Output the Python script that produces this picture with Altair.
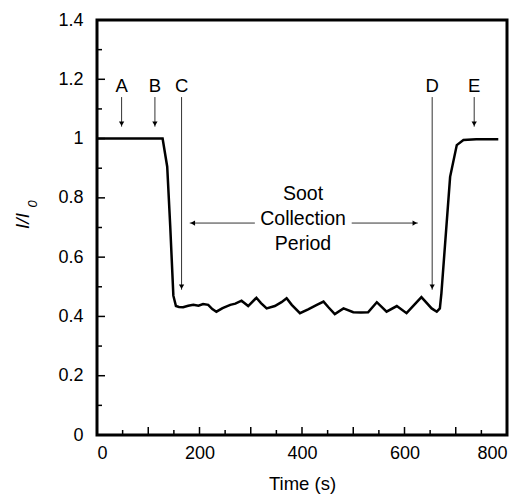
import altair as alt
import pandas as pd

# ---- data ----
time_s = [0, 20, 40, 60, 80, 100, 120, 128, 137, 143, 149, 154, 160, 168, 178, 188, 198, 207, 217,
          225, 233, 245, 260, 270, 282, 295, 311, 320, 331, 347, 360, 370, 380, 396, 412, 428, 442,
          452, 464, 481, 500, 515, 529, 546, 565, 585, 604, 618, 633, 653, 663, 669, 672, 689, 702,
          715, 740, 760, 783]
ratio = [1.0, 1.0, 1.0, 1.0, 1.0, 1.0, 1.0, 1.0, 0.905, 0.70, 0.47, 0.435, 0.432, 0.431, 0.436,
         0.439, 0.436, 0.442, 0.439, 0.425, 0.416, 0.428, 0.439, 0.443, 0.453, 0.435, 0.463, 0.445,
         0.427, 0.435, 0.448, 0.461, 0.439, 0.411, 0.424, 0.438, 0.450, 0.430, 0.408, 0.427, 0.414,
         0.413, 0.414, 0.448, 0.416, 0.435, 0.411, 0.437, 0.465, 0.427, 0.416, 0.427, 0.478, 0.871,
         0.978, 0.995, 0.998, 0.998, 0.998]

ann_labels = ["A", "B", "C", "D", "E"]
ann_time = [48, 113, 165, 654, 736]
ann_top = [1.14, 1.14, 1.14, 1.14, 1.14]
ann_tip = [1.04, 1.04, 0.49, 0.49, 1.04]

period_lines = ["Soot", "Collection", "Period"]
period_y = [0.812, 0.727, 0.645]
arrow_left = [181, 308]
arrow_right = [497, 626]
arrow_y = 0.715

x_labels = [0, 200, 400, 600, 800]
x_major = [0, 100, 200, 300, 400, 500, 600, 700, 800]
x_minor = [50, 150, 250, 350, 450, 550, 650, 750]
y_major = [0, 0.2, 0.4, 0.6, 0.8, 1.0, 1.2, 1.4]
y_minor = [0.1, 0.3, 0.5, 0.7, 0.9, 1.1, 1.3]

W, H = 410, 415
FONT = "Liberation Sans"

xs = alt.Scale(domain=[0, 800], nice=False)
ys = alt.Scale(domain=[0, 1.4], nice=False)

xaxis = alt.Axis(values=x_labels, ticks=False, domain=False, grid=False,
                 labelFontSize=18, labelFont=FONT, labelColor="black", labelPadding=9,
                 titleFontSize=18.5, titleFont=FONT, titleFontWeight="normal",
                 titleColor="black", titlePadding=12)
yaxis = alt.Axis(values=y_major, ticks=False, domain=False, grid=False, format="~g",
                 labelFontSize=18, labelFont=FONT, labelColor="black", labelPadding=14)


def X(field):
    return alt.X(field, type="quantitative", scale=xs, title="Time (s)", axis=xaxis)


def Y(field):
    return alt.Y(field, type="quantitative", scale=ys, title=None, axis=yaxis)


curve_df = pd.DataFrame({"t": time_s, "v": ratio})
ann_df = pd.DataFrame({"lab": ann_labels, "t": ann_time, "top": ann_top, "tip": ann_tip})

curve = alt.Chart(curve_df).mark_line(color="black", strokeWidth=2.5).encode(x=X("t"), y=Y("v"))


def xticks(vals, length):
    return alt.Chart(pd.DataFrame({"t": vals})).mark_rule(color="black", strokeWidth=1.5).encode(
        x=X("t"), y=alt.value(H), y2=alt.value(H - length))


def yticks(vals, length):
    return alt.Chart(pd.DataFrame({"v": vals})).mark_rule(color="black", strokeWidth=1.5).encode(
        y=Y("v"), x=alt.value(0), x2=alt.value(length))


ann_lines = alt.Chart(ann_df).mark_rule(color="#333333", strokeWidth=1).encode(
    x=X("t"), y=Y("top"), y2="tip:Q")
ann_heads = alt.Chart(ann_df).mark_point(shape="triangle-down", filled=True, color="black",
                                         size=28, opacity=1, yOffset=-3).encode(x=X("t"), y=Y("tip"))
ann_text = alt.Chart(ann_df).mark_text(fontSize=18.5, font=FONT, color="black", dy=-11).encode(
    x=X("t"), y=Y("top"), text="lab:N")

harrow_df = pd.DataFrame({"a": [arrow_left[0], arrow_right[0]], "b": [arrow_left[1], arrow_right[1]],
                          "y": [arrow_y, arrow_y]})
h_lines = alt.Chart(harrow_df).mark_rule(color="#333333", strokeWidth=1).encode(
    x=X("a"), x2="b:Q", y=Y("y"))
hl_head = alt.Chart(pd.DataFrame({"t": [arrow_left[0]], "y": [arrow_y]})).mark_point(
    shape="triangle-left", filled=True, color="black", size=28, opacity=1, xOffset=3).encode(
    x=X("t"), y=Y("y"))
hr_head = alt.Chart(pd.DataFrame({"t": [arrow_right[1]], "y": [arrow_y]})).mark_point(
    shape="triangle-right", filled=True, color="black", size=28, opacity=1, xOffset=-3).encode(
    x=X("t"), y=Y("y"))
period_text = alt.Chart(pd.DataFrame({"s": period_lines, "y": period_y, "t": [402] * 3})).mark_text(
    fontSize=19.5, font=FONT, color="black").encode(x=X("t"), y=Y("y"), text="s:N")

title_df = pd.DataFrame({"main": ["I/I"], "sub": ["0"]})
ytitle_main = alt.Chart(title_df).mark_text(fontSize=19, font=FONT, fontStyle="italic",
                                            color="black", angle=270).encode(
    x=alt.value(-74), y=alt.value(201), text="main:N")
ytitle_sub = alt.Chart(title_df).mark_text(fontSize=13, font=FONT, fontStyle="italic",
                                           color="black", angle=270).encode(
    x=alt.value(-64), y=alt.value(184), text="sub:N")

chart = alt.layer(
    curve, xticks(x_major, 8), xticks(x_minor, 5), yticks(y_major, 8), yticks(y_minor, 5),
    ann_lines, ann_heads, ann_text, h_lines, hl_head, hr_head, period_text,
    ytitle_main, ytitle_sub,
).properties(
    width=W, height=H,
    background="white",
    autosize=alt.AutoSizeParams(type="none"),
    padding={"left": 89, "top": 12, "right": 10, "bottom": 61},
).configure_view(stroke="black", strokeWidth=3)

chart.save("out.html", embed_options={"renderer": "svg", "actions": False})
